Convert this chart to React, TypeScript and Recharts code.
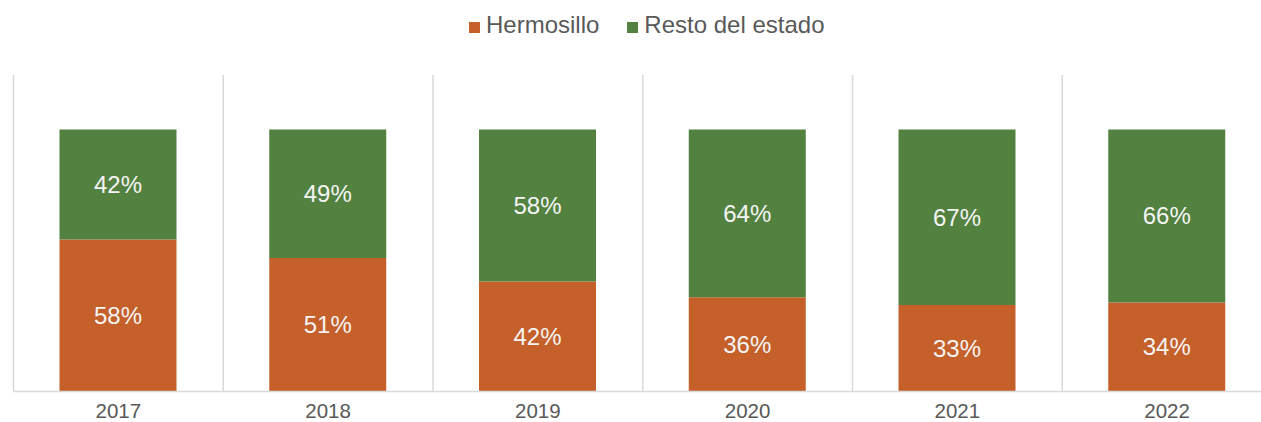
import React from "react";
import { BarChart, Bar, XAxis, YAxis, CartesianGrid, Legend, LabelList } from "recharts";

const categories = ["2017", "2018", "2019", "2020", "2021", "2022"];
const hermosillo = [58, 51, 42, 36, 33, 34];
const resto = [42, 49, 58, 64, 67, 66];
const seriesNames = ["Hermosillo", "Resto del estado"];

const ORANGE = "#C5602A";
const GREEN = "#538140";
const FONT = "'Liberation Sans', Arial, Helvetica, sans-serif";

const data = categories.map((c, i) => ({ year: c, h: hermosillo[i], r: resto[i] }));

const LegendContent = () => (
  <div
    style={{
      height: 75,
      boxSizing: "border-box",
      paddingTop: 13,
      paddingLeft: 8,
      display: "flex",
      justifyContent: "center",
      fontFamily: FONT,
      fontSize: 24,
      lineHeight: "24px",
      color: "#595959",
    }}
  >
    {[ORANGE, GREEN].map((col, i) => (
      <span key={i} style={{ marginRight: i === 0 ? 28 : 0, whiteSpace: "nowrap" }}>
        <span
          style={{
            display: "inline-block",
            width: 11,
            height: 11,
            background: col,
            marginRight: 6,
            verticalAlign: "baseline",
          }}
        />
        {seriesNames[i]}
      </span>
    ))}
  </div>
);

const fmt = (v: any) => `${v}%`;

export default function App() {
  return (
    <div
      style={{
        position: "absolute",
        top: 0,
        left: 0,
        width: 1261,
        height: 422,
        overflow: "hidden",
        background: "#fff",
      }}
    >
      <BarChart
        width={1272}
        height={422}
        data={data}
        margin={{ top: 0, right: 0, bottom: 0, left: 13.5 }}
        barSize={117}
      >
        <Legend verticalAlign="top" content={<LegendContent />} />
        <CartesianGrid
          horizontal={false}
          stroke="#d9d9d9"
          strokeWidth={1.5}
          verticalCoordinatesGenerator={({ offset }: any) =>
            categories.map((_, i) => offset.left + (i * offset.width) / categories.length)
          }
        />
        <XAxis
          dataKey="year"
          height={30.5}
          axisLine={{ stroke: "#d9d9d9", strokeWidth: 1.5 }}
          tickLine={false}
          tickSize={0}
          tickMargin={11.5}
          tick={{ fill: "#595959", fontSize: 20.5, fontFamily: FONT }}
          interval={0}
        />
        <YAxis hide domain={[0, 120.8]} />
        <Bar dataKey="h" name={seriesNames[0]} stackId="a" fill={ORANGE} isAnimationActive={false}>
          <LabelList dataKey="h" position="center" formatter={fmt} fill="#F4F4F4" fontSize={24} fontFamily={FONT} />
        </Bar>
        <Bar dataKey="r" name={seriesNames[1]} stackId="a" fill={GREEN} isAnimationActive={false}>
          <LabelList dataKey="r" position="center" formatter={fmt} fill="#F4F4F4" fontSize={24} fontFamily={FONT} />
        </Bar>
      </BarChart>
    </div>
  );
}
